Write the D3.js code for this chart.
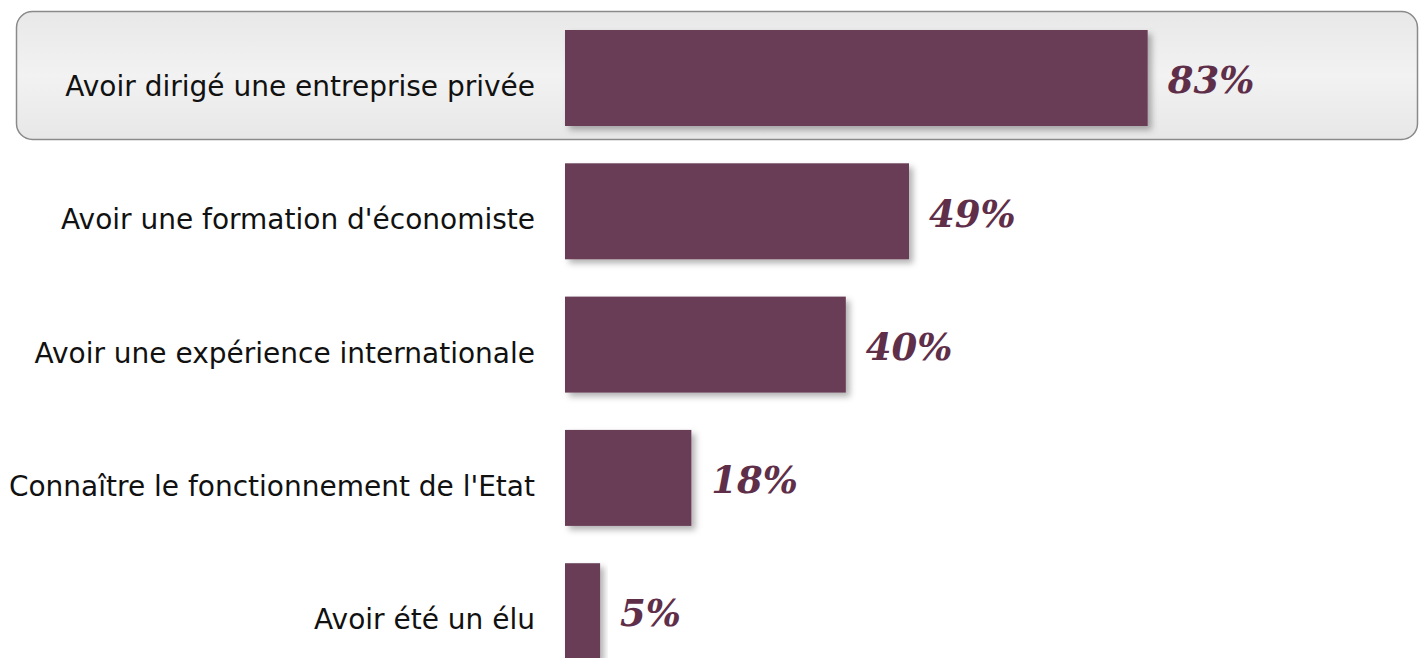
<!DOCTYPE html>
<html><head><meta charset="utf-8">
<script src="https://cdn.jsdelivr.net/npm/d3@7"></script>
<style>body{margin:0;background:#fff;overflow:hidden}</style>
</head><body>
<script>
const categories = ["Avoir dirigé une entreprise privée","Avoir une formation d'économiste","Avoir une expérience internationale","Connaître le fonctionnement de l'Etat","Avoir été un élu"];
const values = [83,49,40,18,5];
const valueLabels = ["83%","49%","40%","18%","5%"];

const W=1419,H=658;
const svg=d3.select("body").append("svg").attr("width",W).attr("height",H);
const defs=svg.append("defs");
const g=defs.append("linearGradient").attr("id","hl").attr("x1",0).attr("x2",0).attr("y1",0).attr("y2",1);
g.append("stop").attr("offset","0%").attr("stop-color","#e8e8e8");
g.append("stop").attr("offset","50%").attr("stop-color","#f2f2f2");
g.append("stop").attr("offset","100%").attr("stop-color","#e7e7e7");
const f=defs.append("filter").attr("id","sh").attr("x","-10%").attr("y","-10%").attr("width","130%").attr("height","130%");
f.append("feDropShadow").attr("dx",4).attr("dy",4).attr("stdDeviation",3).attr("flood-color","#000").attr("flood-opacity",0.3);

const x=d3.scaleLinear().domain([0,100]).range([565,565+702]);
const y=d3.scaleBand().domain(categories).range([30,30+133.3*4+96]).paddingInner(0.28).paddingOuter(0);

// highlight box
svg.append("rect").attr("x",16.5).attr("y",11.5).attr("width",1401).attr("height",128).attr("rx",16)
  .attr("fill","url(#hl)").attr("stroke","#8a8a8a").attr("stroke-width",1.5);

svg.selectAll("rect.bar").data(categories).join("rect").attr("class","bar")
  .attr("x",x(0)).attr("y",d=>y(d)).attr("width",(d,i)=>x(values[i])-x(0)).attr("height",y.bandwidth())
  .attr("fill","#673c55").attr("filter","url(#sh)");

svg.selectAll("text.cat").data(categories).join("text").attr("class","cat")
  .attr("x",535).attr("y",d=>y(d)+y.bandwidth()/2+8).attr("dy","0.36em").attr("text-anchor","end")
  .attr("font-family","DejaVu Sans, sans-serif").attr("font-size",28).attr("fill","#111")
  .text(d=>d);

svg.selectAll("text.val").data(categories).join("text").attr("class","val")
  .attr("x",(d,i)=>x(values[i])+20).attr("y",d=>y(d)+y.bandwidth()/2+3).attr("dy","0.33em")
  .attr("font-family","DejaVu Serif, serif").attr("font-weight","bold").attr("font-style","italic")
  .attr("font-size",37).attr("fill","#5f2f4a").text((d,i)=>valueLabels[i]);
</script>
</body></html>
